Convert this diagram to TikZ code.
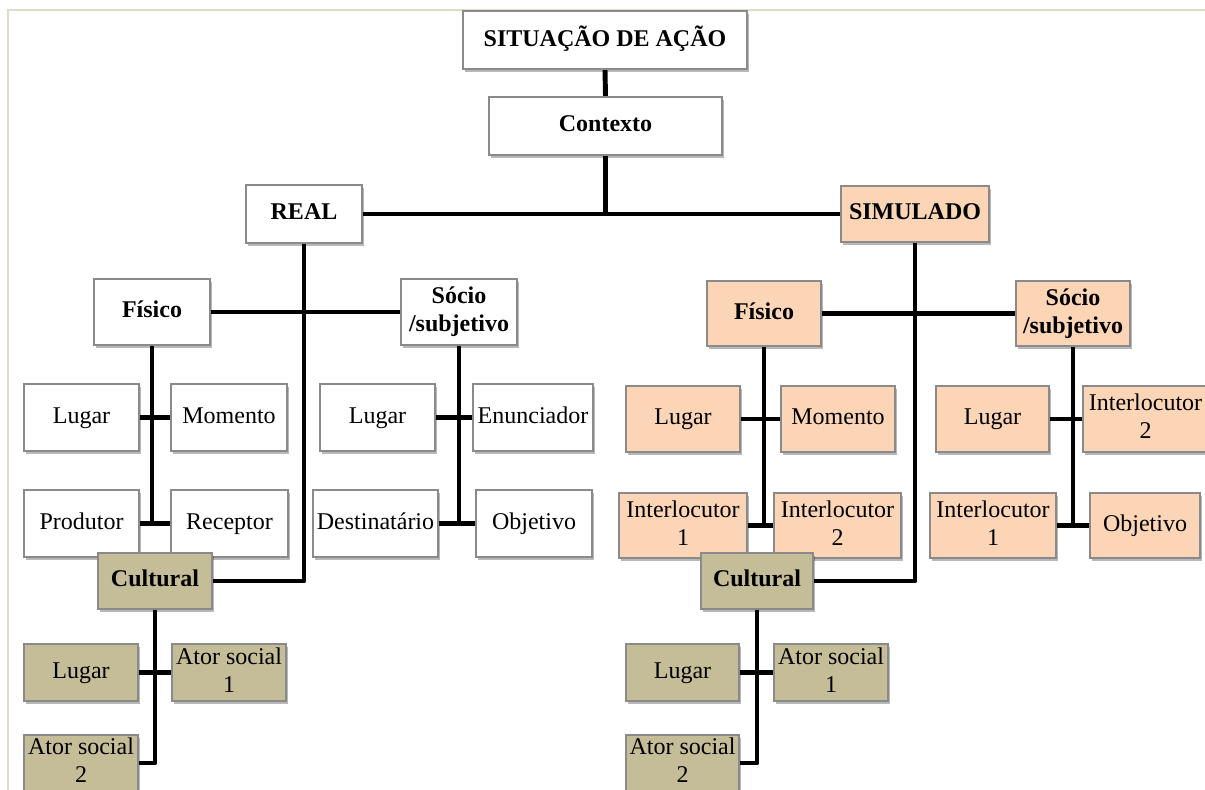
\documentclass[tikz,border=0pt]{standalone}
\usepackage{fontspec}
\setmainfont{Liberation Serif}
\usetikzlibrary{shadows,backgrounds}

\definecolor{framebeige}{HTML}{E3DBC6}
\definecolor{boxedge}{HTML}{8A8A8A}
\definecolor{peach}{HTML}{FBD5B5}
\definecolor{tan}{HTML}{C4BD97}

\tikzset{
  box/.style={draw=boxedge, line width=0.8pt, inner sep=0pt, align=center,
    font=\fontsize{18}{21}\selectfont,
    drop shadow={shadow xshift=1.2pt, shadow yshift=-2.2pt, opacity=0.28, fill=black}},
  head/.style={box, font=\fontsize{18}{21}\selectfont\bfseries},
  plain/.style={fill=white},
  sim/.style={fill=peach},
  cult/.style={fill=tan},
  link/.style={line width=3.7pt, line join=round},
  frameline/.style={draw=framebeige, line width=2pt}
}

% a box given by its two corners (left, top, right, bottom)
\newcommand\cornerbox[7]{%
  \node[#2, minimum width={(#5-#3)*0.75pt}, minimum height={(#6-#4)*0.75pt}]
    (#1) at ({(#3+#5)/2},{(#4+#6)/2}) {\strut#7\strut};}

\begin{document}
\begin{tikzpicture}[x=0.75pt, y=-0.75pt]
\useasboundingbox (0,0) rectangle (1205,789);

% page frame
\draw[frameline] (8,790) -- (8,10) -- (1206,10);

% top of the tree
\cornerbox{sit}{head,plain}{463}{11}{747}{69}{SITUAÇÃO DE AÇÃO}
\cornerbox{ctx}{head,plain}{489}{97}{722}{155}{Contexto}
\cornerbox{real}{head,plain}{246}{185}{362}{243}{REAL}
\cornerbox{simu}{head,sim}{841}{186}{989}{242}{SIMULADO}

% real branch
\cornerbox{rfis}{head,plain}{94}{279}{210}{345}{Físico}
\cornerbox{rsoc}{head,plain}{401}{279}{517}{345}{Sócio\\/subjetivo}
\cornerbox{rlug}{box,plain}{24}{384}{139}{451}{Lugar}
\cornerbox{rmom}{box,plain}{171}{384}{287}{451}{Momento}
\cornerbox{rprod}{box,plain}{24}{490}{139}{557}{Produtor}
\cornerbox{rrec}{box,plain}{171}{490}{288}{557}{Receptor}
\cornerbox{rslug}{box,plain}{320}{384}{435}{451}{Lugar}
\cornerbox{renun}{box,plain}{473}{384}{593}{451}{Enunciador}
\cornerbox{rdest}{box,plain}{313}{490}{438}{557}{Destinatário}
\cornerbox{robj}{box,plain}{476}{490}{592}{557}{Objetivo}
\cornerbox{rcult}{head,cult}{98}{553}{212}{609}{Cultural}
\cornerbox{rclug}{box,cult}{24}{644}{138}{701}{Lugar}
\cornerbox{rcat1}{box,cult}{172}{644}{286}{701}{Ator social\\1}
\cornerbox{rcat2}{box,cult}{24}{735}{138}{791}{Ator social\\2}

% simulated branch
\cornerbox{sfis}{head,sim}{707}{281}{821}{346}{Físico}
\cornerbox{ssoc}{head,sim}{1016}{281}{1130}{346}{Sócio\\/subjetivo}
\cornerbox{slug}{box,sim}{626}{386}{740}{452}{Lugar}
\cornerbox{smom}{box,sim}{781}{386}{895}{452}{Momento}
\cornerbox{sint1}{box,sim}{619}{493}{747}{558}{Interlocutor\\1}
\cornerbox{sint2}{box,sim}{774}{493}{901}{558}{Interlocutor\\2}
\cornerbox{sslug}{box,sim}{936}{386}{1049}{452}{Lugar}
\cornerbox{ssint2}{box,sim}{1083}{386}{1208}{452}{Interlocutor\\2}
\cornerbox{ssint1}{box,sim}{930}{493}{1056}{558}{Interlocutor\\1}
\cornerbox{ssobj}{box,sim}{1090}{493}{1200}{558}{Objetivo}
\cornerbox{scult}{head,cult}{701}{553}{813}{609}{Cultural}
\cornerbox{sclug}{box,cult}{626}{644}{739}{701}{Lugar}
\cornerbox{scat1}{box,cult}{774}{644}{888}{701}{Ator social\\1}
\cornerbox{scat2}{box,cult}{626}{735}{739}{791}{Ator social\\2}

% connectors
\begin{scope}[on background layer]
\draw[link] (sit.south) -- (ctx.north);
\draw[link] (ctx.south) -- (ctx.south |- real.east);
\draw[link] (real.east) -- (simu.west);

\draw[link] (real.south) |- (rcult.east);
\draw[link] (rfis.east) -- (rsoc.west);
\draw[link] (rfis.south) -- (rfis.south |- rprod.east);
\draw[link] (rlug.east) -- (rmom.west);
\draw[link] (rprod.east) -- (rrec.west);
\draw[link] (rsoc.south) -- (rsoc.south |- rdest.east);
\draw[link] (rslug.east) -- (renun.west);
\draw[link] (rdest.east) -- (robj.west);
\draw[link] (rcult.south) |- (rcat2.east);
\draw[link] (rclug.east) -- (rcat1.west);

\draw[link] (simu.south) |- (scult.east);
\draw[link] (sfis.east) -- (ssoc.west);
\draw[link] (sfis.south) -- (sfis.south |- sint1.east);
\draw[link] (slug.east) -- (smom.west);
\draw[link] (sint1.east) -- (sint2.west);
\draw[link] (ssoc.south) -- (ssoc.south |- ssint1.east);
\draw[link] (sslug.east) -- (ssint2.west);
\draw[link] (ssint1.east) -- (ssobj.west);
\draw[link] (scult.south) |- (scat2.east);
\draw[link] (sclug.east) -- (scat1.west);
\end{scope}
\end{tikzpicture}
\end{document}
